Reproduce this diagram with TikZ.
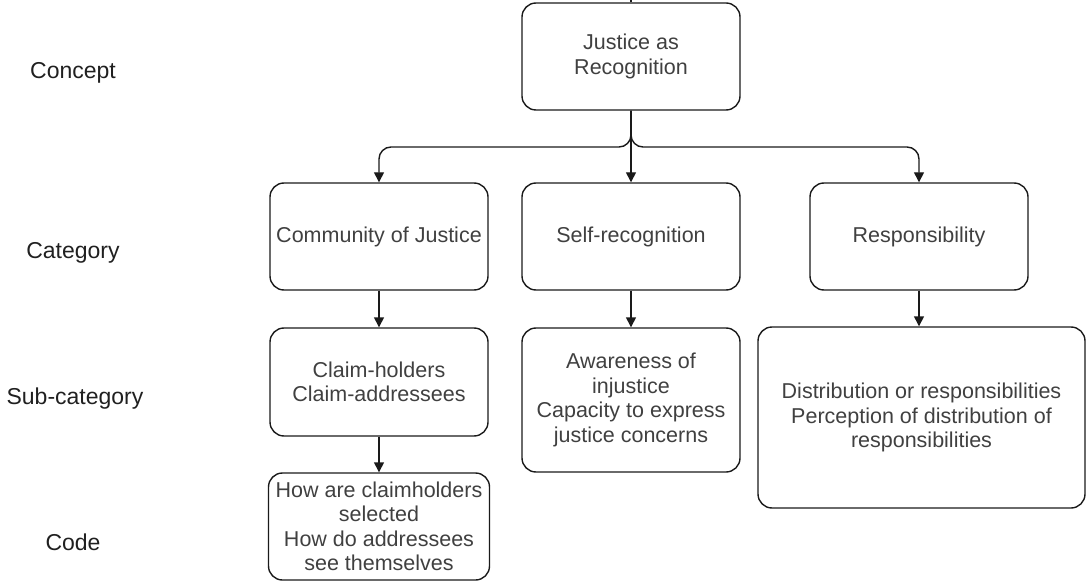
\documentclass[tikz,border=0pt]{standalone}
\usepackage{fontspec}
\setmainfont{Liberation Sans}
\usetikzlibrary{arrows.meta}
\definecolor{txt}{HTML}{404040}
\definecolor{lbl}{HTML}{202020}
\definecolor{edge}{HTML}{1A1A1A}
\tikzset{
  box/.style={draw=edge, line width=1.4pt, rounded corners=14pt, align=center,
    text=txt, font=\fontsize{21.5}{24.5}\selectfont, inner sep=1pt},
  level/.style={text=lbl, font=\fontsize{23}{26}\selectfont},
  link/.style={draw=edge, line width=1.4pt, -{Triangle[length=10pt,width=10pt]}},
}
\begin{document}
\begin{tikzpicture}[x=1pt,y=-1pt]
\useasboundingbox (0,0) rectangle (1086,585);

% concept, categories, sub-categories, codes
\node[box, minimum width=218pt, minimum height=107pt] (J) at (631,56.5) {Justice as\\Recognition};
\node[box, minimum width=218pt, minimum height=107pt] (C1) at (379,236.5) {Community of Justice};
\node[box, minimum width=218pt, minimum height=107pt] (C2) at (631,236.5) {Self-recognition};
\node[box, minimum width=218pt, minimum height=107pt] (C3) at (919,236.5) {Responsibility};
\node[box, minimum width=218pt, minimum height=108pt] (S1) at (379,382) {Claim-holders\\Claim-addressees};
\node[box, minimum width=218pt, minimum height=144pt] (S2) at (631,400) {Awareness of\\injustice\\Capacity to express\\justice concerns};
\node[box, minimum width=327pt, minimum height=181pt] (S3) at (921.5,417.5) {Distribution or responsibilities\\Perception of distribution of\\responsibilities};
\node[box, minimum width=221pt, minimum height=107pt, inner sep=0pt] (K1) at (379,526.5) {How are claimholders\\selected\\How do addressees\\see themselves};

% level labels
\node[level] (L1) at (73,73) {Concept};
\node[level] (L2) at (73,253) {Category};
\node[level] (L3) at (75,399) {Sub-category};
\node[level] (L4) at (73,542) {Code};

% stub above the concept box
\coordinate (top) at (631,0);
\draw[draw=edge, line width=1.4pt] (top) -- (J.north);

% connectors
\draw[link] (J.south) -- (C2.north);
\draw[link, rounded corners=12pt] (J.south) |- (379,147) -- (C1.north);
\draw[link, rounded corners=12pt] (J.south) |- (919,147) -- (C3.north);
\draw[link] (C1.south) -- (S1.north);
\draw[link] (C2.south) -- (S2.north);
\draw[link] (C3.south) -- (S3.north -| C3.south);
\draw[link] (S1.south) -- (K1.north);
\end{tikzpicture}
\end{document}
